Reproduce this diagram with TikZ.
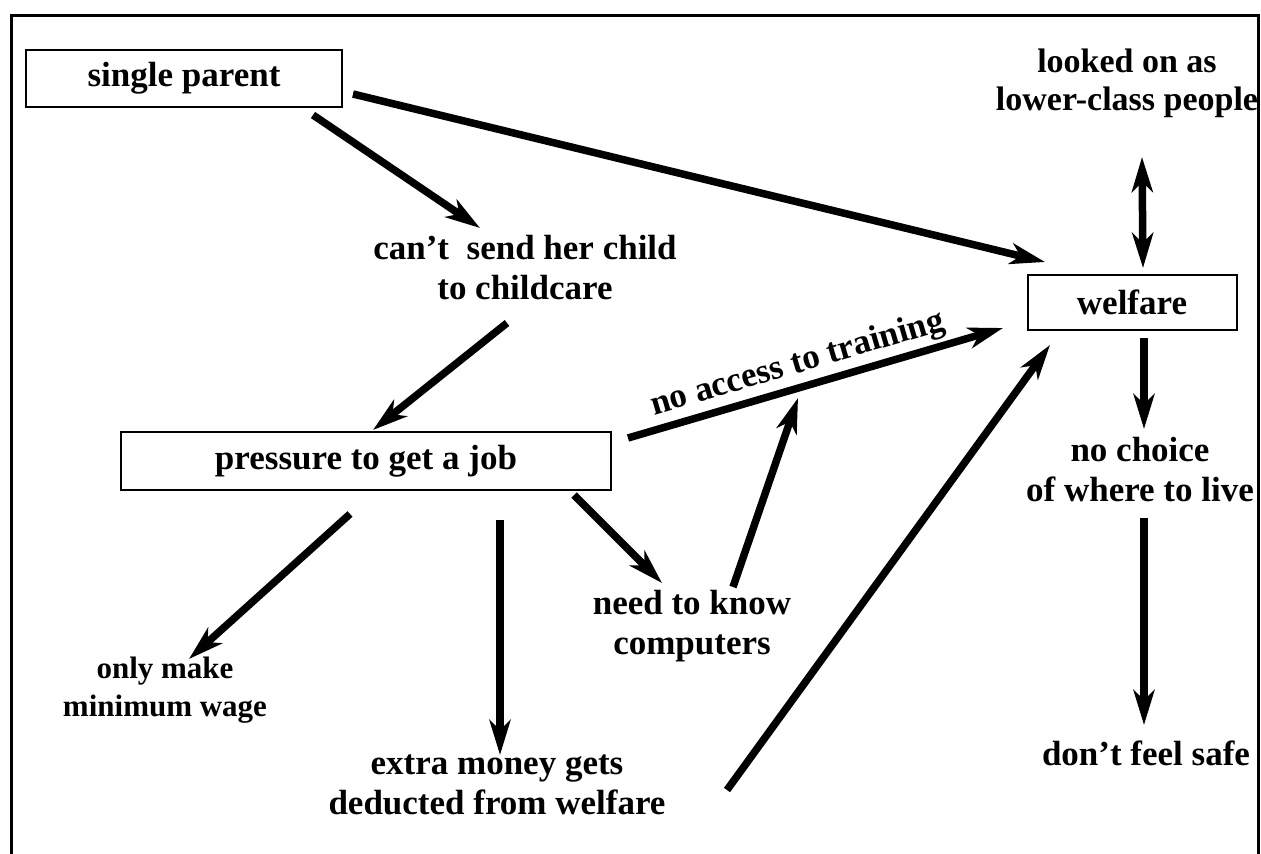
\documentclass[tikz,border=0pt]{standalone}
\usepackage{fontspec}
\setmainfont{Liberation Serif}
\usetikzlibrary{arrows.meta}

\begin{document}
\begin{tikzpicture}[x=1pt, y=-1pt,
            box/.style={draw, line width=2pt, inner sep=0pt, font=\fontsize{35}{40}\selectfont\bfseries},
            txt/.style={align=center, inner sep=0pt, font=\fontsize{35}{40}\selectfont\bfseries},
            arr/.style={line width=7.5pt, -{Stealth[length=35pt, width=21pt, inset=10pt]}},
            darr/.style={line width=7.5pt, {Stealth[length=35pt, width=21pt, inset=10pt]}-{Stealth[length=35pt, width=21pt, inset=10pt]}}]
        \useasboundingbox (0,0) rectangle (1261,854);
        \draw[line width=3pt] (11,854) -- (11,15.5) -- (1258.5,15.5) -- (1258.5,854);

        \node[box, minimum width=316pt, minimum height=57pt] (parent) at (184,78.5) {single parent};
        \node[box, minimum width=209pt, minimum height=55pt] (welfare) at (1132,302) {welfare};
        \node[box, minimum width=490pt, minimum height=58pt] (pressure) at (366,461) {pressure to get a job};
        \node[txt, font=\fontsize{34}{38}\selectfont\bfseries] (lower) at (1127,83) {looked on as\\lower-class people};
        \node[txt] (childcare) at (525,268) {can’t\ \ send her child\\to childcare};
        \node[txt] (choice) at (1140,470) {no choice\\of where to live};
        \node[txt] (computers) at (692,626) {need to know\\computers};
        \node[txt, font=\fontsize{31}{38}\selectfont\bfseries] (wage) at (165,690) {only make\\minimum wage};
        \node[txt] (deducted) at (497,785) {extra money gets\\deducted from welfare};
        \node[txt] (safe) at (1146,753) {don’t feel safe};
        \coordinate (training) at (798,398);

        \draw[arr] ([shift={(169,15.5)}]parent.center) -- ([shift={(-87,-40)}]welfare.center);
        \draw[arr] ([shift={(129,36.5)}]parent.center) -- ([shift={(-45,-40)}]childcare.center);
        \draw[arr] ([shift={(-18,55)}]childcare.center) -- ([shift={(7,-31)}]pressure.center);
        \draw[arr] ([shift={(262,-23)}]pressure.center) -- ([shift={(-129,26)}]welfare.center)
            node[pos=0.47, sloped, above=3pt, inner sep=0pt, font=\fontsize{35}{40}\selectfont\bfseries] {no access to training};
        \draw[arr] ([shift={(41,-39)}]computers.center) -- (training);
        \draw[arr] ([shift={(230,5)}]deducted.center) -- ([shift={(-82,43)}]welfare.center);
        \draw[arr] ([shift={(-16,53)}]pressure.center) -- ([shift={(24,-31)}]wage.center);
        \draw[arr] ([shift={(134,59)}]pressure.center) -- ([shift={(3,-30)}]deducted.center);
        \draw[arr] ([shift={(208,34)}]pressure.center) -- ([shift={(-30,-43)}]computers.center);
        \draw[darr] ([shift={(15,74)}]lower.center) -- ([shift={(11,-34)}]welfare.center);
        \draw[arr] ([shift={(12,36)}]welfare.center) -- ([shift={(4,-41)}]choice.center);
        \draw[arr] ([shift={(4,48)}]choice.center) -- ([shift={(-2,-28)}]safe.center);
    \end{tikzpicture}
\end{document}
